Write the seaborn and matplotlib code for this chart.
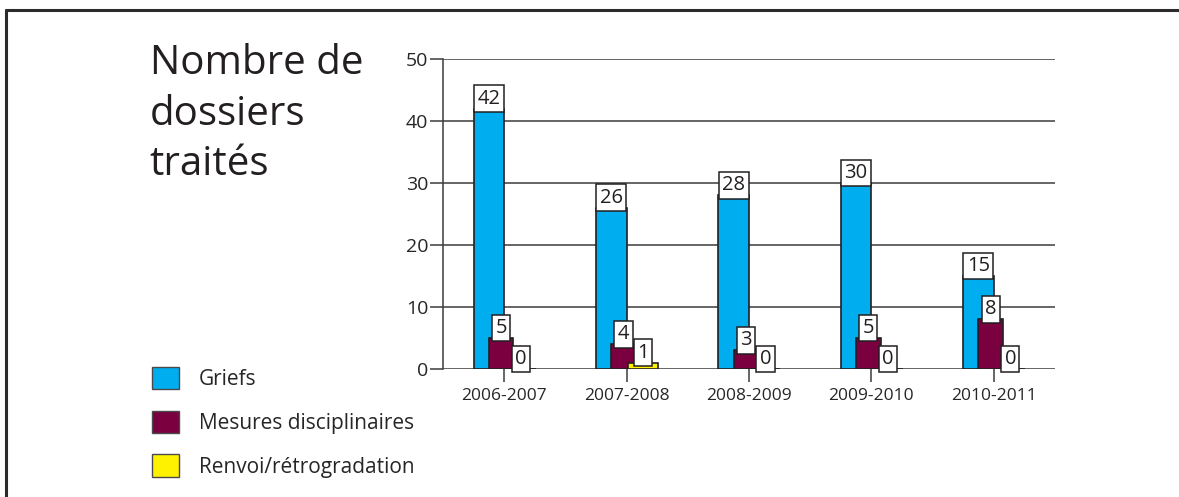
import numpy as np
import pandas as pd
import seaborn as sns
import matplotlib.pyplot as plt
from matplotlib.lines import Line2D
from matplotlib.patches import Patch

years = ["2006-2007", "2007-2008", "2008-2009", "2009-2010", "2010-2011"]
griefs = [42, 26, 28, 30, 15]
mesures = [5, 4, 3, 5, 8]
renvoi = [0, 1, 0, 0, 0]
series_names = ["Griefs", "Mesures disciplinaires", "Renvoi/rétrogradation"]
y_ticks = [0, 10, 20, 30, 40, 50]

colors = ["#00aeef", "#7a0040", "#fff200"]
edge = "#231f20"
grid_col = "#3c3c3c"
# offset of each series from the category centre, and its width
offsets = [-0.125, -0.025, 0.135]
widths = [0.25, 0.20, 0.245]

sns.set_theme(style="white")
plt.rcParams['font.family'] = ['Open Sans', 'DejaVu Sans']

fig = plt.figure(figsize=(11.79, 4.97), dpi=100)
ax = fig.add_axes([0.3757, 0.2575, 0.5191, 0.6238])

idx = np.arange(len(years))
all_series = [griefs, mesures, renvoi]
for vals, off, w, c, z in zip(all_series, offsets, widths, colors, [2, 3, 4]):
    df = pd.DataFrame({"pos": idx + off, "val": vals})
    sns.barplot(data=df, x="pos", y="val", native_scale=True, width=w,
                color=c, saturation=1, edgecolor=edge, linewidth=1.2,
                errorbar=None, ax=ax, zorder=z)

# value boxes on top of each bar
for vals, off in zip(all_series, offsets):
    for i, v in enumerate(vals):
        ax.text(i + off, v, str(v), ha="center", va="bottom", fontsize=14.5,
                color="#231f20", zorder=10,
                bbox=dict(boxstyle="square,pad=0.17", fc="white", ec=edge, lw=1.1))

ax.set_xlim(-0.5, len(years) - 0.5)
ax.set_ylim(0, 50)
ax.set_xticks(idx)
ax.set_xticklabels(years, fontsize=12.5)
ax.set_yticks(y_ticks)
ax.set_yticklabels([str(t) for t in y_ticks], fontsize=14)
ax.set_xlabel("")
ax.set_ylabel("")
ax.grid(axis="y", color=grid_col, linewidth=1.1, zorder=0)
ax.grid(axis="x", visible=False)
ax.set_axisbelow(True)
for s in ["top", "right", "bottom"]:
    ax.spines[s].set_visible(False)
ax.spines["left"].set_color(grid_col)
ax.spines["left"].set_linewidth(1.1)
ax.tick_params(axis="y", length=9.5, width=1.1, color=grid_col, pad=1, left=True)
ax.tick_params(axis="x", length=9, width=1.1, color=grid_col, pad=5, bottom=True)

# title block on the left
fig.text(0.127, 0.912, "Nombre de\ndossiers\ntraités", fontsize=29, ha="left",
         va="top", linespacing=1.33, color="#231f20")

handles = [Patch(facecolor=c, edgecolor="#4a4a4a", linewidth=1.0) for c in colors]
fig.legend(handles, series_names, loc="upper left", bbox_to_anchor=(0.129, 0.262),
           frameon=False, fontsize=15, handlelength=1.3, handleheight=1.3,
           labelspacing=0.98, handletextpad=0.95, borderaxespad=0, borderpad=0)

# frame lines (top and left)
fig.add_artist(Line2D([6 / 1179, 1], [1 - 10 / 497, 1 - 10 / 497], color="#2b2b2b", lw=2.2,
                      transform=fig.transFigure))
fig.add_artist(Line2D([6 / 1179, 6 / 1179], [0, 1 - 10 / 497], color="#2b2b2b", lw=2.2,
                      transform=fig.transFigure))

fig.savefig("out.png", dpi=100)
